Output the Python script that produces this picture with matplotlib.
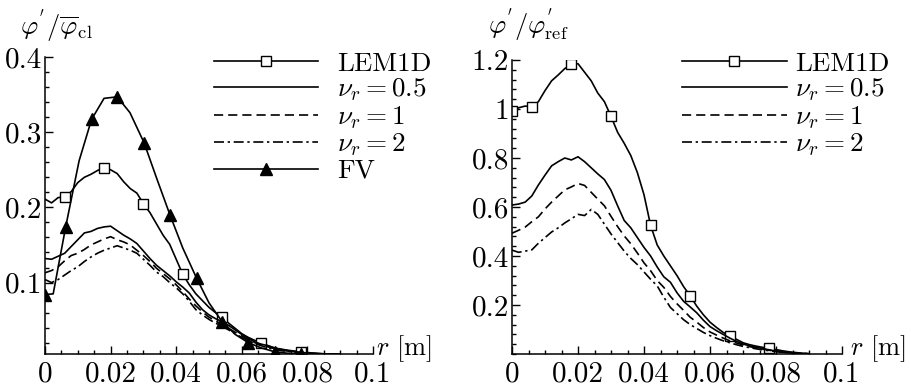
import matplotlib
matplotlib.use("Agg")
import matplotlib.pyplot as plt
from matplotlib.ticker import MultipleLocator, FixedLocator, FixedFormatter

plt.rcParams['font.family'] = 'cmr10'
plt.rcParams['mathtext.fontset'] = 'cm'
plt.rcParams['axes.formatter.use_mathtext'] = True

# radial positions of the stochastic (LEM1D) profiles [m]
r_grid = [round(0.002 * i, 3) for i in range(46)]

# ---- left panel: phi'/phi_cl ----
left_lem1d = [0.211, 0.206, 0.213, 0.214, 0.221, 0.233, 0.240, 0.244, 0.249, 0.253,
              0.250, 0.245, 0.234, 0.225, 0.219, 0.205, 0.193, 0.178, 0.163, 0.151,
              0.131, 0.111, 0.097, 0.085, 0.076, 0.067, 0.060, 0.054, 0.046, 0.039,
              0.032, 0.027, 0.023, 0.0195, 0.016, 0.013, 0.0115, 0.010, 0.009, 0.0083,
              0.007, 0.006, 0.0055, 0.005, 0.005, 0.005]
left_nu05 = [0.132, 0.131, 0.135, 0.139, 0.148, 0.157, 0.166, 0.168, 0.172, 0.174,
             0.175, 0.169, 0.163, 0.158, 0.152, 0.142, 0.132, 0.123, 0.116, 0.109,
             0.101, 0.094, 0.086, 0.074, 0.064, 0.057, 0.052, 0.048, 0.043, 0.037,
             0.031, 0.026, 0.021, 0.018, 0.016, 0.013, 0.011, 0.0095, 0.008, 0.007,
             0.0065, 0.006, 0.0055, 0.005, 0.005, 0.005]
left_nu1 = [0.113, 0.116, 0.121, 0.129, 0.136, 0.139, 0.144, 0.150, 0.154, 0.158,
            0.161, 0.157, 0.154, 0.150, 0.143, 0.136, 0.128, 0.119, 0.112, 0.105,
            0.097, 0.088, 0.078, 0.069, 0.061, 0.054, 0.049, 0.044, 0.039, 0.034,
            0.029, 0.024, 0.020, 0.017, 0.0145, 0.012, 0.010, 0.009, 0.0075, 0.0068,
            0.006, 0.0055, 0.005, 0.005, 0.005, 0.005]
left_nu2 = [0.104, 0.100, 0.104, 0.110, 0.116, 0.121, 0.128, 0.134, 0.139, 0.143,
            0.146, 0.149, 0.146, 0.143, 0.139, 0.131, 0.123, 0.114, 0.108, 0.100,
            0.093, 0.085, 0.075, 0.064, 0.057, 0.051, 0.046, 0.042, 0.037, 0.032,
            0.027, 0.023, 0.019, 0.016, 0.013, 0.011, 0.0095, 0.0085, 0.0075, 0.0068,
            0.006, 0.0055, 0.005, 0.005, 0.005, 0.005]

# finite-volume profile
r_fv = [0.0, 0.0025, 0.0063, 0.0104, 0.0142, 0.0180, 0.0220, 0.0259, 0.0302, 0.0341,
        0.0381, 0.0420, 0.0462, 0.0500, 0.0540, 0.0580, 0.0620, 0.0660, 0.0700, 0.0740,
        0.0780]
left_fv = [0.084, 0.085, 0.174, 0.262, 0.317, 0.345, 0.347, 0.326, 0.286, 0.238,
           0.190, 0.146, 0.106, 0.073, 0.048, 0.031, 0.020, 0.013, 0.008, 0.006,
           0.005]

# ---- right panel: phi'/phi'_ref ----
right_lem1d = [0.990, 1.005, 1.012, 1.008, 1.030, 1.075, 1.115, 1.139, 1.165, 1.182,
               1.185, 1.150, 1.115, 1.065, 1.030, 0.970, 0.905, 0.860, 0.810, 0.740,
               0.650, 0.525, 0.445, 0.400, 0.360, 0.320, 0.275, 0.237, 0.195, 0.160,
               0.130, 0.108, 0.088, 0.075, 0.060, 0.046, 0.038, 0.032, 0.027, 0.023,
               0.018, 0.013, 0.009, 0.006, 0.003, 0.001]
right_nu05 = [0.608, 0.612, 0.620, 0.645, 0.690, 0.730, 0.768, 0.785, 0.800, 0.792,
              0.805, 0.785, 0.760, 0.735, 0.712, 0.668, 0.605, 0.545, 0.515, 0.475,
              0.435, 0.400, 0.355, 0.315, 0.293, 0.250, 0.215, 0.192, 0.168, 0.138,
              0.112, 0.095, 0.080, 0.065, 0.052, 0.041, 0.033, 0.027, 0.022, 0.017,
              0.012, 0.008, 0.005, 0.003, 0.002, 0.001]
right_nu1 = [0.493, 0.505, 0.518, 0.540, 0.560, 0.592, 0.620, 0.645, 0.670, 0.682,
             0.696, 0.688, 0.660, 0.632, 0.605, 0.562, 0.520, 0.482, 0.450, 0.412,
             0.372, 0.340, 0.300, 0.272, 0.235, 0.205, 0.178, 0.150, 0.130, 0.108,
             0.090, 0.077, 0.065, 0.054, 0.045, 0.037, 0.030, 0.025, 0.020, 0.015,
             0.011, 0.007, 0.005, 0.003, 0.002, 0.001]
right_nu2 = [0.424, 0.415, 0.420, 0.425, 0.452, 0.475, 0.498, 0.515, 0.535, 0.552,
             0.570, 0.565, 0.590, 0.570, 0.530, 0.490, 0.455, 0.420, 0.390, 0.365,
             0.335, 0.305, 0.278, 0.232, 0.190, 0.165, 0.140, 0.120, 0.104, 0.088,
             0.075, 0.064, 0.054, 0.046, 0.038, 0.031, 0.026, 0.021, 0.017, 0.013,
             0.010, 0.007, 0.005, 0.003, 0.002, 0.001]

# positions (indices into r_grid) carrying the LEM1D square symbols
lem_marks_left = [3, 9, 15, 21, 27, 33, 39]
lem_marks_right = [0, 3, 9, 15, 21, 27, 33, 39]

labels_nu = [r'$\nu_r = 0.5$', r'$\nu_r = 1$', r'$\nu_r = 2$']
x_ticks = [0, 0.02, 0.04, 0.06, 0.08, 0.1]
x_ticklabels = ['0', '0.02', '0.04', '0.06', '0.08', '0.1']
left_yticks = [0.1, 0.2, 0.3, 0.4]
left_yticklabels = ['0.1', '0.2', '0.3', '0.4']
right_yticks = [0.2, 0.4, 0.6, 0.8, 1.0, 1.2]
right_yticklabels = ['0.2', '0.4', '0.6', '0.8', '1', '1.2']

W, H = 911, 389
fig = plt.figure(figsize=(W / 100, H / 100), dpi=100)
axL = fig.add_axes([45 / W, 1 - 354 / H, 328 / W, 297 / H])
axR = fig.add_axes([512 / W, 1 - 354 / H, 330 / W, 294 / H])

LW = 1.2
dash = (0, (5.5, 3))
dashdot = (0, (6, 2.2, 1.4, 2.2))
sq = dict(marker='s', markersize=7, markerfacecolor='white', markeredgecolor='black',
          markeredgewidth=1.0)


def style_axes(ax, ylim, yticks, yticklabels, yminor):
    for side in ('top', 'right'):
        ax.spines[side].set_visible(False)
    for side in ('left', 'bottom'):
        ax.spines[side].set_linewidth(1.1)
    ax.set_xlim(0, 0.1)
    ax.set_ylim(*ylim)
    ax.xaxis.set_major_locator(FixedLocator(x_ticks))
    ax.xaxis.set_major_formatter(FixedFormatter(x_ticklabels))
    ax.xaxis.set_minor_locator(MultipleLocator(0.005))
    ax.yaxis.set_major_locator(FixedLocator(yticks))
    ax.yaxis.set_major_formatter(FixedFormatter(yticklabels))
    ax.yaxis.set_minor_locator(MultipleLocator(yminor))
    ax.tick_params(which='both', direction='in', width=1.0, colors='black')
    ax.tick_params(which='major', length=6)
    ax.tick_params(which='minor', length=3)
    ax.tick_params(axis='x', which='major', labelsize=21, pad=5)
    ax.tick_params(axis='y', which='major', labelsize=21, pad=2)
    ax.patch.set_visible(False)


# left panel
lL1, = axL.plot(r_grid, left_lem1d, color='black', lw=LW, markevery=lem_marks_left, **sq)
lL2, = axL.plot(r_grid, left_nu05, color='black', lw=LW)
lL3, = axL.plot(r_grid, left_nu1, color='black', lw=LW, linestyle=dash)
lL4, = axL.plot(r_grid, left_nu2, color='black', lw=LW, linestyle=dashdot)
lL5, = axL.plot(r_fv, left_fv, color='black', lw=LW, marker='^', markersize=8.5,
                markevery=2, markerfacecolor='black', markeredgecolor='black')
style_axes(axL, (0.005, 0.4), left_yticks, left_yticklabels, 0.02)

# right panel
lR1, = axR.plot(r_grid, right_lem1d, color='black', lw=LW, markevery=lem_marks_right, **sq)
lR2, = axR.plot(r_grid, right_nu05, color='black', lw=LW)
lR3, = axR.plot(r_grid, right_nu1, color='black', lw=LW, linestyle=dash)
lR4, = axR.plot(r_grid, right_nu2, color='black', lw=LW, linestyle=dashdot)
style_axes(axR, (0.0, 1.2), right_yticks, right_yticklabels, 0.04)

leg_kw = dict(frameon=False, fontsize=19.5, numpoints=1, borderpad=0, borderaxespad=0,
              labelspacing=0.03, bbox_transform=fig.transFigure, loc='upper left')
fig.legend([lL1, lL2, lL3, lL4, lL5], ['LEM1D'] + labels_nu + ['FV'],
           bbox_to_anchor=(214 / W, 1 - 52 / H), handlelength=3.84,
           handletextpad=0.7, **leg_kw)
fig.legend([lR1, lR2, lR3, lR4], ['LEM1D'] + labels_nu,
           bbox_to_anchor=(682 / W, 1 - 52 / H), handlelength=3.86,
           handletextpad=0.3, **leg_kw)

# axis titles
fig.text(20 / W, 1 - 44 / H, r"$\varphi^{'}/\overline{\varphi}_{\mathrm{cl}}$",
         fontsize=19, ha='left', va='bottom')
fig.text(488 / W, 1 - 43 / H, r"$\varphi^{'}/\varphi^{'}_{\mathrm{ref}}$",
         fontsize=19, ha='left', va='bottom')
fig.text(376 / W, 1 - 349 / H, r'$r$ [m]', fontsize=19, ha='left', va='center')
fig.text(850 / W, 1 - 349 / H, r'$r$ [m]', fontsize=19, ha='left', va='center')

fig.savefig('out.png', dpi=100)
